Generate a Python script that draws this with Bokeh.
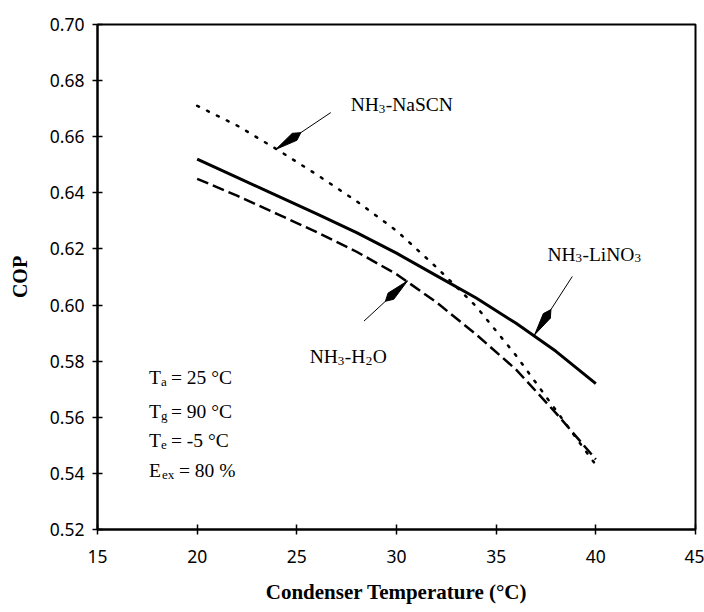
from bokeh.plotting import figure
from bokeh.models import Range1d, FixedTicker, NumeralTickFormatter, ColumnDataSource
from bokeh.core.properties import value
from bokeh.embed import file_html
from bokeh.resources import INLINE
import math

# ---- data ----
temps = [20, 22, 24, 26, 28, 30, 32, 34, 36, 38, 40]
cop_lino3 = [0.652, 0.6455, 0.639, 0.6325, 0.6258, 0.6185, 0.6105, 0.6025, 0.5935, 0.5835, 0.572]
cop_h2o = [0.645, 0.639, 0.6325, 0.626, 0.619, 0.611, 0.601, 0.5895, 0.577, 0.5615, 0.545]
cop_nascn = [0.671, 0.664, 0.6555, 0.6465, 0.637, 0.6265, 0.6135, 0.5995, 0.582, 0.5625, 0.543]

x_ticks = [15, 20, 25, 30, 35, 40, 45]
y_ticks = [0.52, 0.54, 0.56, 0.58, 0.60, 0.62, 0.64, 0.66, 0.68, 0.70]

# annotation anchors (data units)
ann = {
    "NaSCN": dict(label=(27.7, 0.6714), tail=(26.70, 0.6686), tip=(23.95, 0.6555)),
    "LiNO3": dict(label=(37.57, 0.6181), tail=(38.82, 0.6102), tip=(36.93, 0.5894)),
    "H2O": dict(label=(25.65, 0.5815), tail=(28.37, 0.5943), tip=(30.55, 0.6086)),
}

W, H = 704, 612
BL, BR, BT, BB = 97, 9, 24, 83
XMIN, XMAX, YMIN, YMAX = 15, 45, 0.52, 0.70
fw, fh = W - BL - BR, H - BT - BB
sx, sy = fw / (XMAX - XMIN), fh / (YMAX - YMIN)

p = figure(width=W, height=H, output_backend="svg", toolbar_location=None,
           x_range=Range1d(XMIN, XMAX), y_range=Range1d(YMIN, YMAX),
           min_border_left=BL, min_border_right=BR, min_border_top=BT, min_border_bottom=BB)
p.xgrid.visible = False
p.ygrid.visible = False
p.outline_line_color = "black"
p.outline_line_width = 2
p.background_fill_color = "white"
p.border_fill_color = "white"

tick_font = "Noto Sans"
for ax in (p.xaxis[0], p.yaxis[0]):
    ax.axis_line_width = 2
    ax.axis_line_color = "black"
    ax.major_tick_in = 5
    ax.major_tick_out = 5
    ax.major_tick_line_width = 1.5
    ax.major_tick_line_color = "black"
    ax.minor_tick_line_color = None
    ax.major_label_text_font = tick_font
    ax.major_label_text_font_size = "17.5px"
    ax.major_label_text_color = "black"
    ax.axis_label_text_font = "Liberation Serif"
    ax.axis_label_text_font_style = "bold"
    ax.axis_label_text_font_size = "20px"
    ax.axis_label_text_color = "black"

p.xaxis.ticker = FixedTicker(ticks=x_ticks)
p.yaxis.ticker = FixedTicker(ticks=y_ticks)
p.yaxis.formatter = NumeralTickFormatter(format="0.00")
p.xaxis.major_label_standoff = 15
p.yaxis.major_label_standoff = 8

p.yaxis.axis_label = "COP"
p.yaxis.axis_label_standoff = 16
p.xaxis.axis_label = "Condenser Temperature (°C)"
p.xaxis.axis_label_text_font_size = "21px"
p.xaxis.axis_label_standoff = 14

# curves
p.line(temps, cop_lino3, line_color="black", line_width=3)
p.line(temps, cop_h2o, line_color="black", line_width=2.5, line_dash="12 5")
p.line(temps, cop_nascn, line_color="black", line_width=2.5, line_dash="2 9", line_cap="round")

# arrows with elongated heads
L, Wd = 30, 4.2
for key, a in ann.items():
    tx, ty = a["tip"]
    ax_, ay_ = a["tail"]
    p.segment(x0=[ax_], y0=[ay_], x1=[tx], y1=[ty], line_color="black", line_width=1)
    dx, dy = (ax_ - tx) * sx, (ay_ - ty) * sy
    d = math.hypot(dx, dy)
    ux, uy = dx / d, dy / d
    nx, ny = -uy, ux
    pts = [(0, 0), (ux * L * 0.75 + nx * Wd, uy * L * 0.75 + ny * Wd), (ux * L, uy * L),
           (ux * L * 0.75 - nx * Wd, uy * L * 0.75 - ny * Wd)]
    xs = [tx + px / sx for px, py in pts]
    ys = [ty + py / sy for px, py in pts]
    p.patch(xs, ys, fill_color="black", line_color="black", line_width=1)

# text pieces
main_size, sub_size = "19.5px", "13px"
pieces = []
def add(xy, parts):
    for text, xo, sub in parts:
        pieces.append((xy[0], xy[1], text, xo, 4 if sub else 0, sub_size if sub else main_size))

add(ann["NaSCN"]["label"], [("NH", 0, False), ("3", 28, True), ("-NaSCN", 35, False)])
add(ann["LiNO3"]["label"], [("NH", 0, False), ("3", 28, True), ("-LiNO", 35, False), ("3", 87, True)])
add(ann["H2O"]["label"], [("NH", 0, False), ("3", 28, True), ("-H", 35, False), ("2", 56, True), ("O", 63, False)])

cond_x = 17.58
cond_lines = [("T", "a", "= 25 °C", 0.5741), ("T", "g", "= 90 °C", 0.5622),
              ("T", "e", "= -5 °C", 0.5516), ("E", "ex", "= 80 %", 0.5412)]
for main, sub, rest, yy in cond_lines:
    rest_off = 22 if main == "T" else 30
    add((cond_x, yy), [(main, 0, False), (sub, 12 if main == "T" else 13, True), (rest, rest_off, False)])

src = ColumnDataSource(dict(x=[q[0] for q in pieces], y=[q[1] for q in pieces],
                            text=[q[2] for q in pieces], xo=[q[3] for q in pieces],
                            yo=[q[4] for q in pieces], fs=[q[5] for q in pieces]))
p.text(x="x", y="y", text="text", x_offset="xo", y_offset="yo", text_font_size="fs",
       text_font=value("Liberation Serif"), text_color="black",
       text_baseline="alphabetic", text_align="left", source=src)

open("out.html", "w").write(file_html(p, INLINE))
